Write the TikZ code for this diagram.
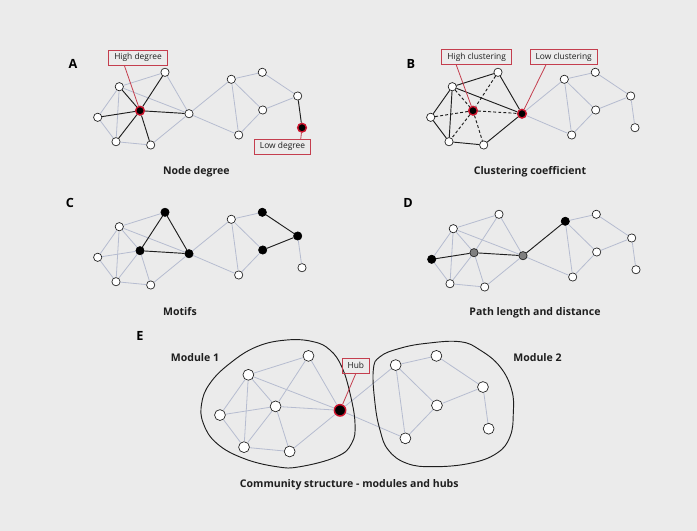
\documentclass[tikz,border=0pt]{standalone}
\usepackage{fontspec}
\setmainfont{Open Sans}
\usetikzlibrary{calc}

\definecolor{bgcol}{RGB}{235,235,235}
\definecolor{edgecol}{RGB}{182,188,208}
\definecolor{hubred}{RGB}{204,20,45}
\definecolor{tagred}{RGB}{196,62,78}
\definecolor{inkcol}{RGB}{30,30,30}

\newcommand{\netpos}{1/119.3/86.7,2/165/72.3,3/97.7/117.3,4/140/110.7,5/189/113.7,6/116/141.7,7/150.7/145,8/231.3/79.3,9/262.3/72.3,10/297.7/96,11/262.7/110,12/238.7/135,13/302/127.7}
\newcommand{\netedges}{1/2,1/3,1/4,1/5,1/6,2/4,2/5,3/4,3/6,4/5,4/6,4/7,5/7,6/7,5/8,5/12,8/9,8/11,8/12,11/12,9/10,10/11,10/13}
\newcommand{\network}[1]{%
	\foreach \n/\x/\y in \netpos
		\node[vertex, #1\n/.try] (#1\n) at (\x,\y) {};
	\foreach \a/\b in \netedges
		\draw[link, #1\a-\b/.try] (#1\a) -- (#1\b);
}

\tikzset{
	vertex/.style={circle, draw=inkcol, fill=white, line width=0.5pt, minimum size=6.2pt, inner sep=0pt},
	redvertex/.style={fill=black, draw=hubred, line width=1.1pt, minimum size=6.5pt},
	blackvertex/.style={fill=black, draw=black},
	grayvertex/.style={fill=black!50, draw=inkcol},
	link/.style={draw=edgecol, line width=0.6pt},
	strong/.style={draw=inkcol, line width=0.7pt},
	dashlink/.style={strong, dash pattern=on 2.2pt off 1.6pt},
	setred/.style={#1/.style={redvertex}},
	setblack/.style={#1/.style={blackvertex}},
	setgray/.style={#1/.style={grayvertex}},
	setstrong/.style={#1/.style={strong}},
	setdash/.style={#1/.style={dashlink}},
	setred/.list={A4,A13,B4,B5,E5},
	setblack/.list={C2,C4,C5,C9,C10,C11,D3,D8},
	setgray/.list={D4,D5},
	setstrong/.list={A1-4,A2-4,A3-4,A4-5,A4-6,A4-7,A10-13,B1-2,B1-3,B1-5,B1-6,B2-5,B3-6,B6-7,B5-7,C2-4,C2-5,C4-5,C9-10,C10-11,D3-4,D4-5,D5-8},
	setdash/.list={B1-4,B2-4,B3-4,B4-5,B4-6,B4-7},
	caption/.style={font=\fontsize{7.9}{10}\selectfont\bfseries, text=inkcol},
	panel/.style={font=\fontsize{9.5}{11}\selectfont\bfseries, text=black},
	tag/.style={draw=tagred, line width=0.6pt, font=\fontsize{6.3}{7.5}\selectfont, text=inkcol, inner xsep=4.2pt, inner ysep=0pt, minimum height=11.25pt},
	tagline/.style={draw=tagred, line width=0.6pt},
	blob/.style={draw=inkcol, line width=0.7pt}
}

\begin{document}
\begin{tikzpicture}[x=0.75pt, y=-0.75pt]
	\fill[bgcol] (0,0) rectangle (697,531);

	% A
	\network{A}
	% B
	\begin{scope}[shift={(333,0)}]
		\network{B}
	\end{scope}
	% C
	\begin{scope}[shift={(0,140)}]
		\network{C}
	\end{scope}
	% D
	\begin{scope}[shift={(334,142)}]
		\network{D}
	\end{scope}
	% E
	\begin{scope}[shift={(91.5,260.8)}, scale=1.315, transform shape]
		\network{E}
	\end{scope}

	\draw[blob] plot[smooth cycle, tension=0.7] coordinates {(286.7,340) (313.3,341.7) (330,350) (341.7,366.7) (350,393.3) (355,423.3) (351.7,443.3) (336.7,456.7) (300,466.7) (276.7,466.7) (243.3,458.3) (216.7,443.3) (203.3,423.3) (201.7,403.3) (210,383.3) (230,363.3) (256.7,346.7)};
	\draw[blob] plot[smooth cycle, tension=0.7] coordinates {(460,341.7) (480,350) (500,366.7) (511.7,390) (513.3,413.3) (510,436.7) (496.7,453.3) (470,463.3) (433.3,466.7) (406.7,463.3) (388.3,450) (380,430) (375,403.3) (373.3,370) (380,356.7) (400,348.3) (426.7,343.3)};

	\node[tag] (hdtag) at (138,57.5) {High degree};
	\node[tag] (ldtag) at (282.5,146.7) {Low degree};
	\node[tag] (hctag) at (476.7,57) {High clustering};
	\node[tag] (lctag) at (563.7,57) {Low clustering};
	\node[tag] (hubtag) at (355.8,365.7) {Hub};
	\draw[tagline] ($(hdtag.south west)!0.27!(hdtag.south east)$) -- (A4);
	\draw[tagline] ($(ldtag.north west)!0.82!(ldtag.north east)$) -- (A13);
	\draw[tagline] ($(hctag.south west)!0.21!(hctag.south east)$) -- (B4);
	\draw[tagline] ($(lctag.south west)!0.24!(lctag.south east)$) -- (B5);
	\draw[tagline] (hubtag.south) -- (E5);

	\node[panel] (pa) at (73,64) {A};
	\node[panel] (pb) at (411,64) {B};
	\node[panel] (pc) at (70,203) {C};
	\node[panel] (pd) at (408,203) {D};
	\node[panel] (pe) at (140,336) {E};

	\node[caption] (capa) at (196.3,171.7) {Node degree};
	\node[caption] (capb) at (530,171.7) {Clustering coefficient};
	\node[caption] (capc) at (180,311.7) {Motifs};
	\node[caption] (capd) at (535,312.7) {Path length and distance};
	\node[caption] (cape) at (349.3,484.3) {Community structure - modules and hubs};
	\node[caption] (mod1) at (195,357.3) {Module 1};
	\node[caption] (mod2) at (537.5,358) {Module 2};
\end{tikzpicture}
\end{document}
